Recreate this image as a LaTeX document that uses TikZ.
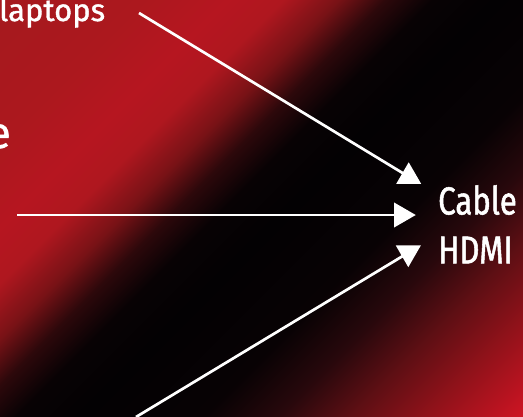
\documentclass[tikz,border=0pt]{standalone}
\usepackage{fontspec}
\setmainfont{Fira Sans}[FakeBold=1.2]
\newfontfamily\condfont{Fira Sans}[FakeStretch=0.8, FakeBold=1.3]
\usetikzlibrary{positioning, shapes.geometric}
\definecolor{redA}{RGB}{165,25,30}
\definecolor{redB}{RGB}{172,24,30}
\definecolor{redC}{RGB}{182,22,32}
\definecolor{redD}{RGB}{175,23,31}
\definecolor{maroonA}{RGB}{120,18,22}
\definecolor{maroonB}{RGB}{45,8,11}
\definecolor{darkA}{RGB}{8,2,4}
\definecolor{darkB}{RGB}{3,1,3}
\definecolor{darkC}{RGB}{8,2,4}
\definecolor{maroonC}{RGB}{40,8,12}
\definecolor{redE}{RGB}{95,15,20}
\definecolor{redF}{RGB}{145,18,26}
\definecolor{redH}{RGB}{205,20,35}
\pgfdeclarehorizontalshading{bgshade}{100bp}{color(0bp)=(redA); color(14.64bp)=(redA);
  color(25.25bp)=(redB); color(31.7bp)=(redC); color(35.85bp)=(redD);
  color(40.1bp)=(maroonA); color(43.6bp)=(maroonB); color(47.2bp)=(darkA);
  color(52bp)=(darkB); color(61.3bp)=(darkC); color(67bp)=(maroonC);
  color(72.6bp)=(redE); color(78.3bp)=(redF);
  color(85.4bp)=(redH); color(100bp)=(redH)}

\begin{document}
\begin{tikzpicture}[
  x=1pt, y=-1pt,
  label/.style={text=white, inner sep=0pt},
  wire/.style={draw=white, line width=2.7pt},
  tip/.style={regular polygon, regular polygon sides=3, fill=white,
              inner sep=0pt, minimum size=28.9pt},
]
  \shade[shading=bgshade, shading angle=-45] (0,0) rectangle (523,416);
  \useasboundingbox (0,0) rectangle (523,416);

  \node[label, anchor=base west, font=\fontsize{31}{38}\selectfont]
    (laptops) at (-1,21) {laptops};
  \node[label, anchor=base east, font=\fontsize{44}{50}\selectfont]
    (tablet) at (11,148) {e};
  \node[label, anchor=north west, align=left, font=\condfont\fontsize{39}{49}\selectfont]
    (hdmi) at (438,185) {Cable\\HDMI};

  \node[tip] (tipUp) at (408.7,176.7) {};
  \node[tip, shape border rotate=-90] (tipMid) at (401.3,215) {};
  \node[tip, shape border rotate=180] (tipDown) at (408.3,252.7) {};

  \coordinate (fromLaptops) at (139,13);
  \coordinate (fromTablet) at (17,215);
  \coordinate (fromBottom) at (136,417);

  \draw[wire] (fromLaptops) -- (tipUp.center);
  \draw[wire] (fromTablet) -- (tipMid.center);
  \draw[wire] (fromBottom) -- (tipDown.center);
\end{tikzpicture}
\end{document}
